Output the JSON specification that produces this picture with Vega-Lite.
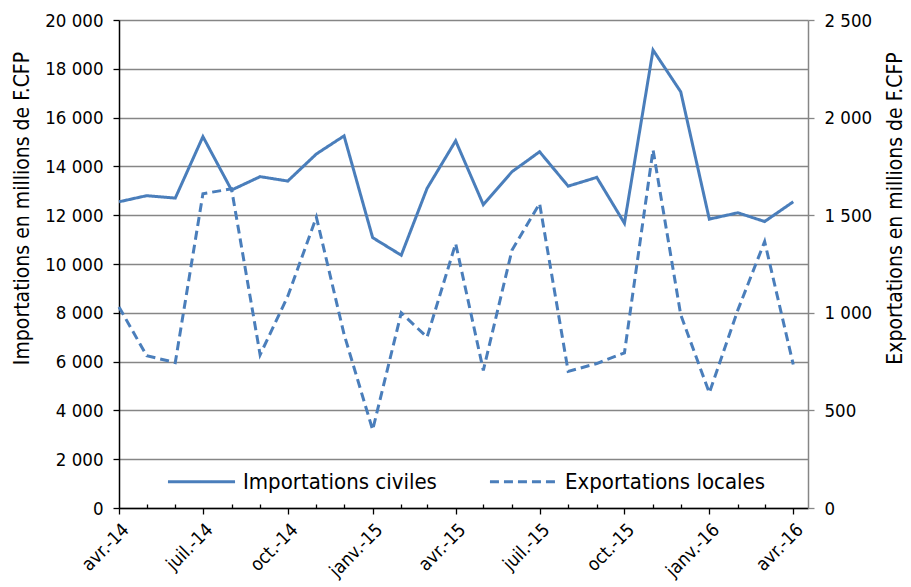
{
  "$schema": "https://vega.github.io/schema/vega-lite/v6.json",
  "width": 689,
  "height": 488,
  "autosize": {"type": "none"},
  "padding": {"left": 119, "top": 20, "right": 103, "bottom": 79},
  "background": "white",
  "config": {
    "view": {"stroke": null},
    "font": "DejaVu Sans Condensed",
    "locale": {"number": {"decimal": ",", "thousands": " ", "grouping": [3], "currency": ["", " F.CFP"]}},
    "axis": {"labelFont": "DejaVu Sans Condensed", "titleFont": "DejaVu Sans Condensed", "labelColor": "#000000", "titleColor": "#000000", "titleFontWeight": "normal"}
  },
  "data": {
    "values": [
      {"mois": "2014-04-01", "importations": 12550, "exportations": 1030},
      {"mois": "2014-05-01", "importations": 12800, "exportations": 780},
      {"mois": "2014-06-01", "importations": 12700, "exportations": 745},
      {"mois": "2014-07-01", "importations": 15220, "exportations": 1610},
      {"mois": "2014-08-01", "importations": 13030, "exportations": 1635},
      {"mois": "2014-09-01", "importations": 13580, "exportations": 785},
      {"mois": "2014-10-01", "importations": 13400, "exportations": 1085},
      {"mois": "2014-11-01", "importations": 14510, "exportations": 1490},
      {"mois": "2014-12-01", "importations": 15250, "exportations": 890},
      {"mois": "2015-01-01", "importations": 11080, "exportations": 400},
      {"mois": "2015-02-01", "importations": 10360, "exportations": 1000},
      {"mois": "2015-03-01", "importations": 13100, "exportations": 875},
      {"mois": "2015-04-01", "importations": 15050, "exportations": 1355},
      {"mois": "2015-05-01", "importations": 12430, "exportations": 705},
      {"mois": "2015-06-01", "importations": 13780, "exportations": 1320},
      {"mois": "2015-07-01", "importations": 14600, "exportations": 1560},
      {"mois": "2015-08-01", "importations": 13190, "exportations": 700},
      {"mois": "2015-09-01", "importations": 13550, "exportations": 740},
      {"mois": "2015-10-01", "importations": 11670, "exportations": 795},
      {"mois": "2015-11-01", "importations": 18770, "exportations": 1835},
      {"mois": "2015-12-01", "importations": 17060, "exportations": 990},
      {"mois": "2016-01-01", "importations": 11840, "exportations": 590},
      {"mois": "2016-02-01", "importations": 12100, "exportations": 1015},
      {"mois": "2016-03-01", "importations": 11740, "exportations": 1365},
      {"mois": "2016-04-01", "importations": 12550, "exportations": 735}
    ]
  },
  "encoding": {
    "x": {
      "field": "mois",
      "type": "temporal",
      "scale": {"type": "utc", "domain": ["2014-04-01", "2016-04-17"]},
      "axis": {
        "title": null,
        "grid": false,
        "tickCount": {"interval": "month", "step": 1},
        "labelExpr": "utcmonth(datum.value) % 3 == 0 ? ['janv.','févr.','mars','avr.','mai','juin','juil.','août','sept.','oct.','nov.','déc.'][utcmonth(datum.value)] + '-' + utcFormat(datum.value, '%y') : ''",
        "labelOverlap": false,
        "labelAngle": -45,
        "labelAlign": "right",
        "labelBaseline": "top",
        "labelFontSize": 18.5,
        "labelPadding": 6,
        "tickSize": {"condition": {"test": "utcmonth(datum.value) % 3 == 0", "value": 6}, "value": -4},
        "tickColor": "#000000",
        "tickWidth": 1.3,
        "domainColor": "#000000",
        "domainWidth": 1.5
      }
    }
  },
  "layer": [
    {
      "mark": {"type": "line", "color": "#4A7EBB", "strokeWidth": 3, "strokeJoin": "miter"},
      "encoding": {
        "y": {
          "field": "importations",
          "type": "quantitative",
          "scale": {"domain": [0, 20000], "nice": false},
          "axis": {
            "orient": "left",
            "title": "Importations en millions de F.CFP",
            "titleFontSize": 21,
            "titleX": -97,
            "titleY": 188,
            "titleAngle": 270,
            "titleAlign": "center",
            "titleBaseline": "middle",
            "values": [0, 2000, 4000, 6000, 8000, 10000, 12000, 14000, 16000, 18000, 20000],
            "format": ",d",
            "labelFontSize": 18.5,
            "labelPadding": 10,
            "tickSize": 6,
            "tickColor": "#000000",
            "tickWidth": 1.3,
            "domainColor": "#000000",
            "domainWidth": 1.5,
            "grid": true,
            "gridColor": "#868686",
            "gridWidth": 1.3
          }
        },
        "strokeDash": {
          "datum": "Importations civiles",
          "type": "nominal",
          "scale": {"domain": ["Importations civiles", "Exportations locales"], "range": [[1, 0], [9, 5]]},
          "legend": {
            "title": null,
            "orient": "none",
            "direction": "horizontal",
            "legendX": 47,
            "legendY": 426,
            "symbolType": "stroke",
            "symbolSize": 4500,
            "symbolStrokeWidth": 3,
            "symbolStrokeColor": "#4A7EBB",
            "labelFontSize": 22,
            "labelLimit": 0,
            "labelFont": "DejaVu Sans Condensed",
            "labelColor": "#000000",
            "labelOffset": 6,
            "columnPadding": 46
          }
        }
      }
    },
    {
      "mark": {"type": "line", "color": "#4A7EBB", "strokeWidth": 3, "strokeJoin": "miter"},
      "encoding": {
        "y": {
          "field": "exportations",
          "type": "quantitative",
          "scale": {"domain": [0, 2500], "nice": false},
          "axis": {
            "orient": "right",
            "title": "Exportations en millions de F.CFP",
            "titleFontSize": 21,
            "titleX": 87,
            "titleY": 188,
            "titleAngle": 270,
            "titleAlign": "center",
            "titleBaseline": "middle",
            "values": [0, 500, 1000, 1500, 2000, 2500],
            "format": ",d",
            "labelFontSize": 18.5,
            "labelPadding": 10,
            "tickSize": 6,
            "tickColor": "#868686",
            "tickWidth": 1.3,
            "domainColor": "#868686",
            "domainWidth": 1.5,
            "grid": false
          }
        },
        "strokeDash": {"datum": "Exportations locales", "type": "nominal"}
      }
    }
  ],
  "resolve": {"scale": {"y": "independent"}}
}
